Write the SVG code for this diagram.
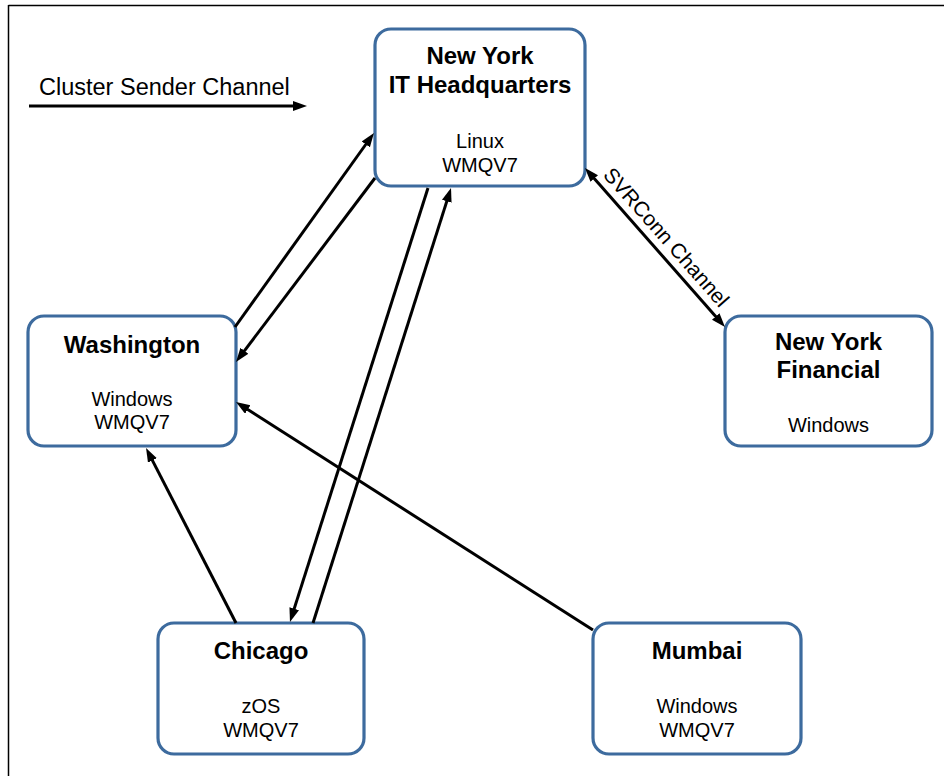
<svg xmlns="http://www.w3.org/2000/svg" width="944" height="776" viewBox="0 0 944 776">
<style>
  .box { fill: #ffffff; stroke: #3d6b9e; stroke-width: 3.2; }
  .title { font-family: "Liberation Sans", Arial, sans-serif; font-size: 24px; font-weight: bold; fill: #000; text-anchor: middle; }
  .sub { font-family: "Liberation Sans", Arial, sans-serif; font-size: 20px; fill: #000; text-anchor: middle; }
  .svr { font-family: "Liberation Sans", Arial, sans-serif; font-size: 21px; fill: #000; text-anchor: middle; }
  .legend { font-family: "Liberation Sans", Arial, sans-serif; font-size: 23.5px; fill: #000; }
  .conn { stroke: #000; stroke-width: 3; fill: none; }
</style>
<defs>
  <marker id="arr" markerUnits="userSpaceOnUse" markerWidth="16" markerHeight="12" refX="6" refY="5" orient="auto-start-reverse">
    <path d="M0,0 L14,5 L0,10 z" fill="#000"/>
  </marker>
</defs>
<rect width="944" height="776" fill="#ffffff"/>
<g id="frame">
  <line x1="8.5" y1="5.5" x2="944" y2="5.5" stroke="#000" stroke-width="1.5"/>
  <line x1="8.5" y1="5" x2="8.5" y2="776" stroke="#000" stroke-width="1.5"/>
</g>
<g id="legend">
  <text class="legend" x="39" y="95">Cluster Sender Channel</text>
  <line class="conn" x1="29" y1="106" x2="299" y2="106" marker-end="url(#arr)"/>
</g>
<g id="node-ny-hq">
  <rect class="box" x="375" y="29" width="210" height="157" rx="16"/>
  <text class="title" x="480" y="64">New York</text>
  <text class="title" x="480" y="93">IT Headquarters</text>
  <text class="sub" x="480" y="148">Linux</text>
  <text class="sub" x="480" y="172">WMQV7</text>
</g>
<g id="node-washington">
  <rect class="box" x="28" y="316" width="208" height="130" rx="16"/>
  <text class="title" x="132" y="353">Washington</text>
  <text class="sub" x="132" y="406">Windows</text>
  <text class="sub" x="132" y="429">WMQV7</text>
</g>
<g id="node-ny-financial">
  <rect class="box" x="725" y="316" width="207" height="130" rx="16"/>
  <text class="title" x="828.5" y="350">New York</text>
  <text class="title" x="828.5" y="378">Financial</text>
  <text class="sub" x="828.5" y="432">Windows</text>
</g>
<g id="node-chicago">
  <rect class="box" x="158" y="623" width="206" height="131" rx="16"/>
  <text class="title" x="261" y="659">Chicago</text>
  <text class="sub" x="261" y="713">zOS</text>
  <text class="sub" x="261" y="737">WMQV7</text>
</g>
<g id="node-mumbai">
  <rect class="box" x="593" y="623" width="208" height="131" rx="16"/>
  <text class="title" x="697" y="659">Mumbai</text>
  <text class="sub" x="697" y="713">Windows</text>
  <text class="sub" x="697" y="737">WMQV7</text>
</g>
<g id="connectors">
  <line class="conn" x1="235" y1="327" x2="369.3" y2="139.5" marker-end="url(#arr)"/>
  <line class="conn" x1="375" y1="178" x2="240.8" y2="355.6" marker-end="url(#arr)"/>
  <line class="conn" x1="428" y1="188" x2="292.4" y2="614.4" marker-end="url(#arr)"/>
  <line class="conn" x1="313" y1="623" x2="448.6" y2="195.6" marker-end="url(#arr)"/>
  <line class="conn" x1="236" y1="623" x2="149.7" y2="455.1" marker-end="url(#arr)"/>
  <line class="conn" x1="593" y1="630" x2="242.7" y2="406.3" marker-end="url(#arr)"/>
  <line class="conn" x1="590.3" y1="174" x2="719.7" y2="321" marker-start="url(#arr)" marker-end="url(#arr)"/>
  <text class="svr" transform="translate(661,242) rotate(48.6)" x="0" y="0">SVRConn Channel</text>
</g>
</svg>
